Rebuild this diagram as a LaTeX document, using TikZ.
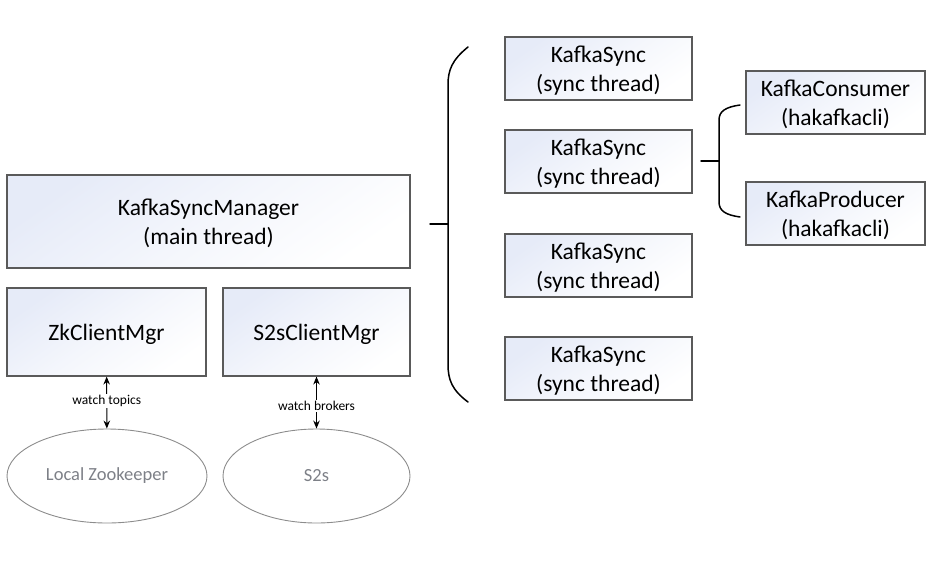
\documentclass[tikz,border=0pt]{standalone}
\usepackage{fontspec}
\setmainfont{Carlito}
\usetikzlibrary{arrows.meta}
\usetikzlibrary{shapes.geometric}
\definecolor{boxline}{RGB}{90,90,90}
\definecolor{boxtop}{RGB}{230,235,248}
\definecolor{dbline}{RGB}{140,140,140}
\definecolor{dbtext}{RGB}{125,128,135}
\tikzset{b/.style = {draw=boxline, line width=1.1pt, top color=boxtop, bottom color=white,
        middle color=boxtop!45!white, shading angle=35, inner sep=0pt, align=center,
        font=\fontsize{23.5}{29}\selectfont, text depth=-2pt},
    e/.style = {ellipse, draw=dbline, line width=0.9pt, inner sep=0pt, text=dbtext,
        font=\fontsize{18.5}{22}\selectfont},
    w/.style = {fill=white, inner sep=1pt, font=\fontsize{13.5}{15}\selectfont},
    br/.style = {line width=1.5pt, line cap=round}}

\begin{document}
\begin{tikzpicture}[x=1pt, y=-1pt, >={Stealth[length=8pt,width=6.5pt]}]
        \useasboundingbox (0,0) rectangle (946,563);
        \node[b, minimum width=403pt, minimum height=93pt] (mgr) at (208.5,221.5) {KafkaSyncManager\\(main thread)};
        \node[b, minimum width=199pt, minimum height=88pt] (zk) at (106.5,332) {ZkClientMgr};
        \node[b, minimum width=187pt, minimum height=88pt] (s2s) at (316.5,332) {S2sClientMgr};
        \node[e, minimum width=200pt, minimum height=94pt] (zkdb) at (107,476) {Local Zookeeper};
        \node[e, minimum width=187pt, minimum height=94pt] (s2sdb) at (316.5,476) {S2s};

        \foreach \n/\y in {s1/68.5, s2/161.5, s3/265.5, s4/368.5}
            \node[b, minimum width=187pt, minimum height=63pt] (\n) at (598.5,\y) {KafkaSync\\(sync thread)};
        \node[b, minimum width=179pt, minimum height=63pt] (cons) at (835.5,102.5) {KafkaConsumer\\(hakafkacli)};
        \node[b, minimum width=179pt, minimum height=63pt] (prod) at (835.5,213.5) {KafkaProducer\\(hakafkacli)};

        \draw [<->, line width=1pt] (zk) -- node[w, pos=0.47] {watch topics} (zkdb);
        \draw [<->, line width=1pt] (s2s) -- node[w, pos=0.57] {watch brokers} (s2sdb);

        % braces
        \draw [br] (430,224) -- (448,224);
        \draw [br] (468,47) .. controls (452,60) and (448,70) .. (448,85) -- (448,364)
            .. controls (448,380) and (452,390) .. (468,402);
        \draw [br] (701,161) -- (719,161);
        \draw [br] (740,105) .. controls (726,107) and (719,111) .. (719,120) -- (719,202)
            .. controls (719,211) and (726,215) .. (740,217);
    \end{tikzpicture}
\end{document}
